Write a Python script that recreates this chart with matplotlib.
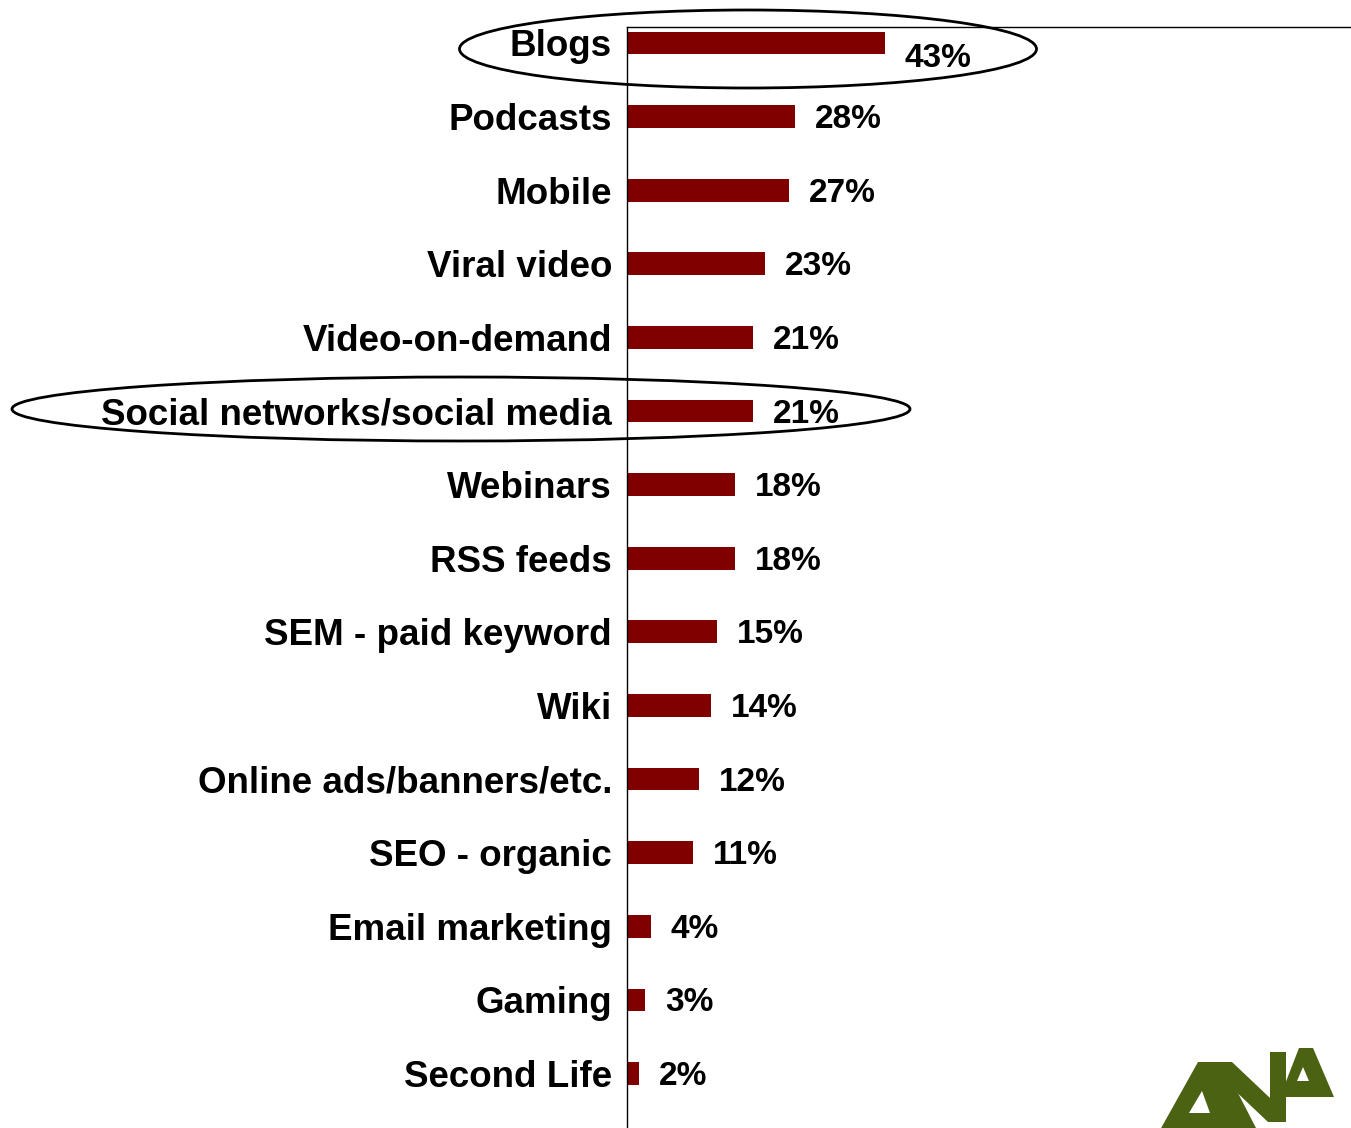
import matplotlib
matplotlib.use("Agg")
import matplotlib.pyplot as plt
from matplotlib.patches import Ellipse, Polygon

plt.rcParams["font.family"] = ["Liberation Sans", "DejaVu Sans"]
plt.rcParams["font.weight"] = "bold"

# dati
canali = ["Blogs", "Podcasts", "Mobile", "Viral video", "Video-on-demand",
          "Social networks/social media", "Webinars", "RSS feeds",
          "SEM - paid keyword", "Wiki", "Online ads/banners/etc.",
          "SEO - organic", "Email marketing", "Gaming", "Second Life"]
percentuali = [43, 28, 27, 23, 21, 21, 18, 18, 15, 14, 12, 11, 4, 3, 2]

W, H = 1351, 1128
fig = plt.figure(figsize=(W / 100, H / 100), dpi=100)

# asse: bordo sinistro a x=627px, bordo alto a y=27px, a destra oltre il bordo
ax = fig.add_axes([627 / W, 0, 1 - 627 / W + 0.01, 1 - 27 / H])
pos = list(range(len(canali)))
ax.barh(pos, percentuali, height=0.31, color="#800000")
ax.set_xlim(0, 123)
ax.set_ylim(14.74, -0.217)

ax.spines["right"].set_visible(False)
ax.spines["bottom"].set_visible(False)
ax.spines["left"].set_linewidth(1.0)
ax.spines["top"].set_linewidth(1.0)
ax.set_xticks([])
ax.set_yticks(pos)
ax.set_yticklabels(canali, fontsize=26.5, fontweight="bold")
ax.tick_params(axis="y", length=0, pad=10.8)

for i, v in enumerate(percentuali):
    dy = -11.5 if i == 0 else -2.2
    ax.annotate(f"{v}%", (v, i), xytext=(14.4, dy), textcoords="offset points",
                ha="left", va="center", fontsize=24, fontweight="bold")

# ellissi intorno alle voci evidenziate
def ellisse(cx, cy, w, h):
    e = Ellipse((cx / W, 1 - cy / H), w / W, h / H, transform=fig.transFigure,
                fill=False, edgecolor="black", linewidth=2.0, clip_on=False)
    fig.add_artist(e)

ellisse(748, 49, 577, 78)
ellisse(461, 409, 898, 64)

# logo ANA in basso a destra
verde = "#4a6212"
def forma(punti, colore):
    pts = [(x / W, 1 - y / H) for x, y in punti]
    fig.add_artist(Polygon(pts, closed=True, transform=fig.transFigure,
                           facecolor=colore, edgecolor="none", clip_on=False))

forma([(1160, 1130), (1198, 1062), (1222, 1062), (1257, 1130)], verde)
forma([(1189, 1113), (1202, 1091), (1210, 1113)], "white")
forma([(1212, 1122), (1212, 1062), (1232, 1062), (1270, 1098), (1270, 1052),
       (1286, 1052), (1286, 1122), (1268, 1122), (1228, 1084), (1228, 1122)], verde)
forma([(1280, 1097), (1299, 1048), (1313, 1048), (1334, 1097)], verde)
forma([(1297, 1081), (1303, 1067), (1309, 1081)], "white")

fig.savefig("out.png", dpi=100)
